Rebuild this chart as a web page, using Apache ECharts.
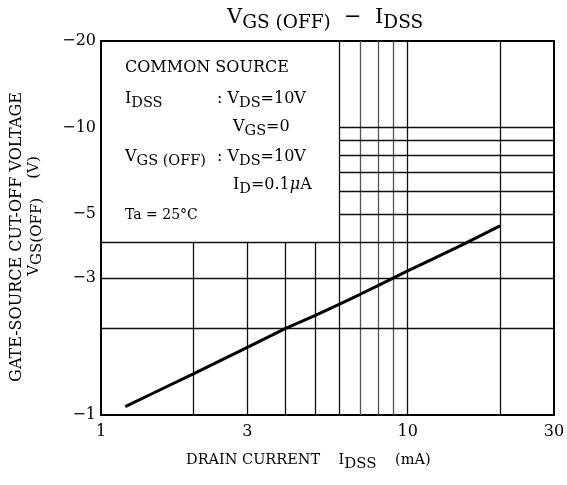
<!DOCTYPE html>
<html>
<head>
<meta charset="utf-8">
<script src="https://cdn.jsdelivr.net/npm/echarts@6/dist/echarts.min.js"></script>
<style>
  html, body { margin: 0; padding: 0; background: #fff; }
  #chart { width: 567px; height: 485px; }
</style>
</head>
<body>
<div id="chart"></div>
<script>
// drain current IDSS (mA) and |VGS(OFF)| (V)
var currentMA = [1.2, 1.5, 2, 3, 4, 5, 6, 7, 8, 10, 12, 15, 20];
var cutoffV = [1.07, 1.2, 1.39, 1.72, 2.0, 2.22, 2.43, 2.63, 2.82, 3.17, 3.48, 3.9, 4.55];

// tick labels
var xTicks = [1, 3, 10, 30];
var yTicks = [1, 3, 5, 10, 20];

// grid lines (the upper left corner is left clear for the notes)
var vFull = [6, 7, 8, 9, 10, 20];
var vLower = [2, 3, 4, 5];
var hFull = [2, 3, 4];
var hRight = [5, 6, 7, 8, 9, 10];
var vGrey = [7, 8, 9];
var boxX = 6, boxY = 4;
var xMin = 1, xMax = 30, yMin = 1, yMax = 20;

var lg = Math.log10;
var serif = '"DejaVu Serif", serif';

var chart = echarts.init(document.getElementById('chart'));

function seg(x0, y0, x1, y1, color) {
  return [
    { coord: [lg(x0), lg(y0)], lineStyle: { color: color } },
    { coord: [lg(x1), lg(y1)] }
  ];
}

var gridLines = [];
vFull.forEach(function (x) {
  gridLines.push(seg(x, yMin, x, yMax, vGrey.indexOf(x) >= 0 ? '#555' : '#111'));
});
vLower.forEach(function (x) {
  gridLines.push(seg(x, yMin, x, boxY, '#111'));
});
hFull.forEach(function (y) {
  gridLines.push(seg(xMin, y, xMax, y, '#111'));
});
hRight.forEach(function (y) {
  gridLines.push(seg(boxX, y, xMax, y, '#111'));
});

var sub = { fontFamily: serif, fontSize: 14.5, fill: '#000', verticalAlign: 'bottom' };
var big = { fontFamily: serif, fontSize: 16, fill: '#000', verticalAlign: 'bottom', padding: [0, 0, 4, 0] };
var rich = {
  t: big, s: sub,
  m: { fontFamily: serif, fontSize: 16, fontStyle: 'italic', fill: '#000', verticalAlign: 'bottom', padding: [0, 0, 4, 0] }
};

function note(x, y, text, extra) {
  var st = {
    text: text,
    rich: rich,
    font: '16px ' + serif,
    fill: '#000',
    verticalAlign: 'middle'
  };
  if (extra) Object.assign(st, extra);
  return { type: 'text', left: x, top: y, style: st, z: 10 };
}

var option = {
  animation: false,
  backgroundColor: '#fff',
  grid: {
    left: 101, right: 13, top: 41, bottom: 70,
    show: true, borderColor: '#000', borderWidth: 2,
    outerBoundsMode: 'none'
  },
  xAxis: {
    type: 'value',
    min: lg(xMin),
    max: lg(xMax),
    axisLine: { show: false },
    axisTick: { show: false },
    splitLine: { show: false },
    axisLabel: {
      customValues: xTicks.map(lg),
      formatter: function (v) { return String(Math.round(Math.pow(10, v))); },
      fontFamily: serif, fontSize: 16, color: '#000', margin: 9
    }
  },
  yAxis: {
    type: 'value',
    min: lg(yMin),
    max: lg(yMax),
    axisLine: { show: false },
    axisTick: { show: false },
    splitLine: { show: false },
    axisLabel: {
      customValues: yTicks.map(lg),
      formatter: function (v) { return '\u2212' + Math.round(Math.pow(10, v)); },
      fontFamily: serif, fontSize: 16, color: '#000', margin: 5
    }
  },
  series: [
    {
      type: 'line',
      data: [],
      silent: true,
      markLine: {
        silent: true,
        symbol: ['none', 'none'],
        label: { show: false },
        lineStyle: { type: 'solid', width: 1.3, color: '#111' },
        data: gridLines
      },
      z: 1
    },
    {
      type: 'line',
      data: currentMA.map(function (x, i) { return [lg(x), lg(cutoffV[i])]; }),
      showSymbol: false,
      lineStyle: { color: '#000', width: 3 },
      z: 5
    }
  ],
  graphic: [
    {
      type: 'text', left: 227, top: 7, z: 10,
      style: {
        text: '{V|V}{S|GS (OFF)}{V|  \u2212  I}{S|DSS}',
        rich: {
          V: { fontFamily: serif, fontSize: 21, fill: '#000', verticalAlign: 'bottom', padding: [0, 0, 5, 0] },
          S: { fontFamily: serif, fontSize: 18.5, fill: '#000', verticalAlign: 'bottom' }
        }
      }
    },
    note(125, 60, 'COMMON SOURCE'),
    note(125, 91, '{t|I}{s|DSS}'),
    note(217, 91, '{t|: V}{s|DS}{t|=10V}'),
    note(233, 119, '{t|V}{s|GS}{t|=0}'),
    note(125, 149, '{t|V}{s|GS (OFF)}'),
    note(217, 149, '{t|: V}{s|DS}{t|=10V}'),
    note(233, 177, '{t|I}{s|D}{t|=0.1}{m|\u03bc}{t|A}'),
    note(125, 208, 'Ta = 25\u00b0C', { font: '14px ' + serif }),
    {
      type: 'text', left: 186, top: 453, z: 10,
      style: {
        text: '{t|DRAIN CURRENT    I}{s|DSS}{t|    (mA)}',
        rich: {
          t: { fontFamily: serif, fontSize: 14.5, fill: '#000', verticalAlign: 'bottom', padding: [0, 0, 4, 0] },
          s: { fontFamily: serif, fontSize: 15, fill: '#000', verticalAlign: 'bottom' }
        }
      }
    },
    {
      type: 'text', x: 9, y: 237, rotation: Math.PI / 2, z: 10,
      style: {
        text: 'GATE-SOURCE CUT-OFF VOLTAGE',
        font: '16px ' + serif, fill: '#000',
        align: 'center', verticalAlign: 'top'
      }
    },
    {
      type: 'text', x: 27, y: 216, rotation: Math.PI / 2, z: 10,
      style: {
        text: '{t|V}{s|GS(OFF)}{t|    (V)}',
        align: 'center', verticalAlign: 'top',
        rich: {
          t: { fontFamily: serif, fontSize: 15, fill: '#000', verticalAlign: 'bottom', padding: [0, 0, 3, 0] },
          s: { fontFamily: serif, fontSize: 15, fill: '#000', verticalAlign: 'bottom' }
        }
      }
    }
  ]
};

chart.setOption(option);
</script>
</body>
</html>
